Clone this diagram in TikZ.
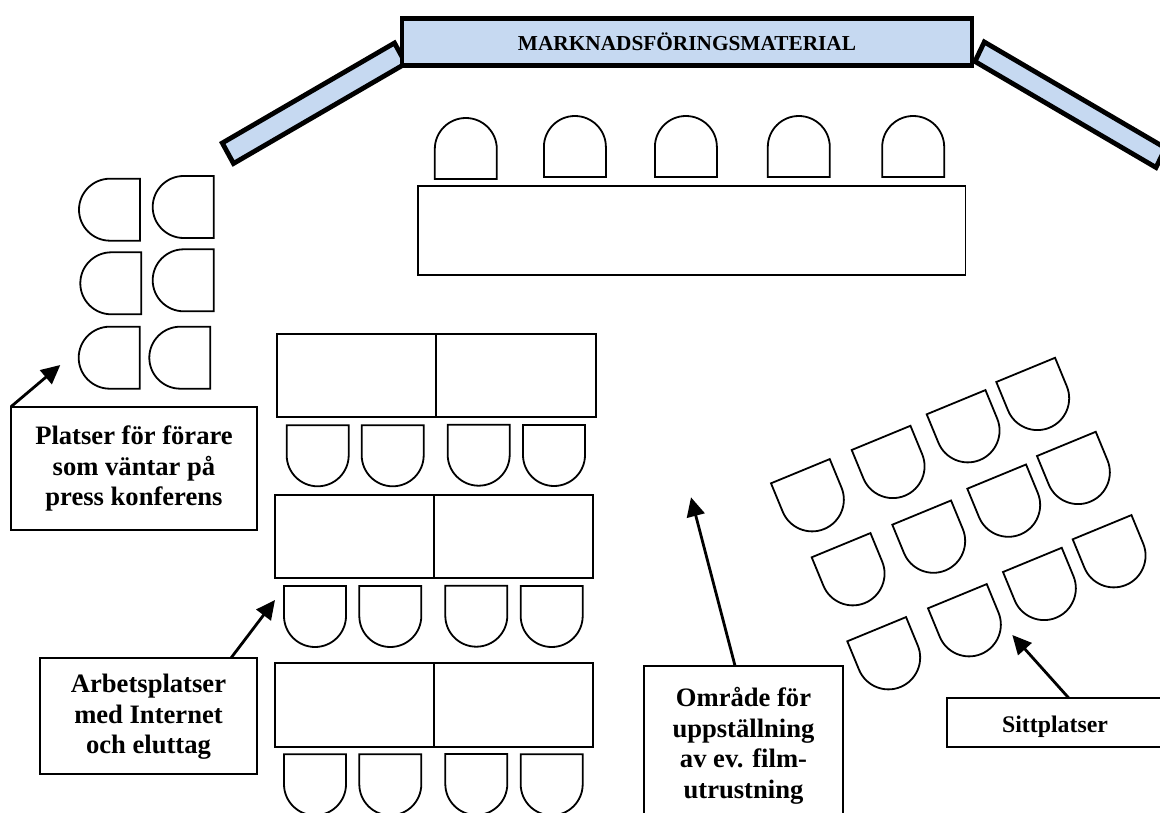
\documentclass[tikz,border=0pt]{standalone}
\usepackage{fontspec}
\setmainfont{Liberation Serif}
\usetikzlibrary{arrows.meta}
\definecolor{wallblue}{HTML}{C6D9F1}
\newcommand{\lowered}[2]{\raisebox{-#1}[\height][\depth]{#2}}
\tikzset{
  seatline/.style={draw=black,line width=1.8pt,fill=white,line join=miter},
  chairseat/.pic={\draw[seatline] (0,0) -- (62,0) -- (62,30)
     .. controls (62,47.1) and (48.1,61) .. (31,61)
     .. controls (13.9,61) and (0,47.1) .. (0,30) -- cycle;},
  tablebox/.style={draw=black,line width=1.9pt,anchor=north west,outer sep=0pt,inner sep=0pt},
  labelbox/.style={draw=black,line width=2pt,fill=white,anchor=north west,outer sep=0pt,inner sep=0pt,align=center,
     font=\bfseries\fontsize{26.6}{30.7}\selectfont},
  wall/.style={draw=black,fill=wallblue,line width=4.8pt,line join=miter},
  pointer/.style={draw=black,line width=2.8pt,-{Triangle[length=19pt,width=18pt]},shorten >=0pt},
  divider/.style={draw=black,line width=1.9pt}
}
\newcommand{\tablepair}[5]{%
  \node[tablebox,minimum width=#3,minimum height=#4] (#5) at (#1,#2) {};
  \draw[divider] (#5.north) -- (#5.south);}
\begin{document}
\begin{tikzpicture}[x=1pt,y=-1pt]
\clip (0,0) rectangle (1160,813);
\fill[white] (0,0) rectangle (1160,813);
% angled walls
\draw[wall] (222.3,143) -- (394.5,43) -- (405.7,63.5) -- (233.5,163.5) -- cycle;
\draw[wall] (984.3,42) -- (1165.5,148) -- (1156,167.5) -- (975,61.5) -- cycle;
% main banner
\node[anchor=north west,outer sep=0pt,inner sep=0pt,draw=black,fill=wallblue,line width=4.8pt,
      minimum width=570pt,minimum height=47pt,font=\bfseries\fontsize{21.3}{24}\selectfont] (banner) at (402,18.5) {MARKNADSFÖRINGSMATERIAL};
% head table
\node[tablebox,minimum width=547.5pt,minimum height=89pt] (headtable) at (418,186) {};
\foreach \x/\y in {496.8/179,605.9/177,716.9/177,829.8/177,944.2/177}
  \pic[rotate=180] at (\x,\y) {chairseat};
% waiting chairs
\foreach \x/\y in {140/178.7,213.7/176,141.3/252.3,213.7/249.3,139.7/326.7,210.3/326.7}
  \pic[rotate=-90] at (\x,\y) {chairseat};
% work tables
\tablepair{277}{334.3}{318.7pt}{83pt}{worka}
\tablepair{275}{494.7}{318.3pt}{83.3pt}{workb}
\tablepair{275}{663.3}{318.3pt}{83.4pt}{workc}
\foreach \x/\y in {286.7/425.3,361.7/425.3,447.7/424.7,523/425,
                   284/586,359.3/586,445.3/585.7,520.7/586,
                   284/754.3,359.3/754.3,445.3/754,520.7/754.3}
  \pic at (\x,\y) {chairseat};
% angled seating
\foreach \x/\y in {771/483.3,851.7/450,926.7/414.3,996.3/382,
                   811.7/557.3,892.3/524.7,967.3/488.7,1037/456,
                   847.3/641.3,928/608.3,1003/572,1072.7/539.3}
  \pic[rotate=22.4,scale=1.025] at (\x,\y) {chairseat};
% labels
\node[labelbox,minimum width=246pt,minimum height=123.6pt] (platser) at (11,406.7) {Platser för förare\\som väntar på\\press konferens};
\node[labelbox,minimum width=217pt,minimum height=115.7pt] (arbets) at (40,658) {\lowered{1pt}{Arbetsplatser}\\\lowered{1.5pt}{med Internet}\\\lowered{1pt}{och eluttag}};
\node[labelbox,minimum width=199.6pt,minimum height=160pt] (omrade) at (643.7,665.7) {Område för\\uppställning\\av ev. film-\\utrustning};
\node[labelbox,minimum width=216pt,minimum height=48.4pt,font=\bfseries\fontsize{23.8}{28}\selectfont] (sitt) at (947,698.3) {\lowered{4.5pt}{Sittplatser}};
% pointer targets
\coordinate (tipPlatser) at (60.3,365);
\coordinate (tipArbets) at (275,600);
\coordinate (tipOmrade) at (691,497.3);
\coordinate (tipSitt) at (1012.3,635);
\draw[pointer] (platser.north west) -- (tipPlatser);
\draw[pointer] ([xshift=191pt]arbets.north west) -- (tipArbets);
\draw[pointer] ([xshift=91.3pt]omrade.north west) -- (tipOmrade);
\draw[pointer] ([xshift=122pt]sitt.north west) -- (tipSitt);
\end{tikzpicture}
\end{document}
